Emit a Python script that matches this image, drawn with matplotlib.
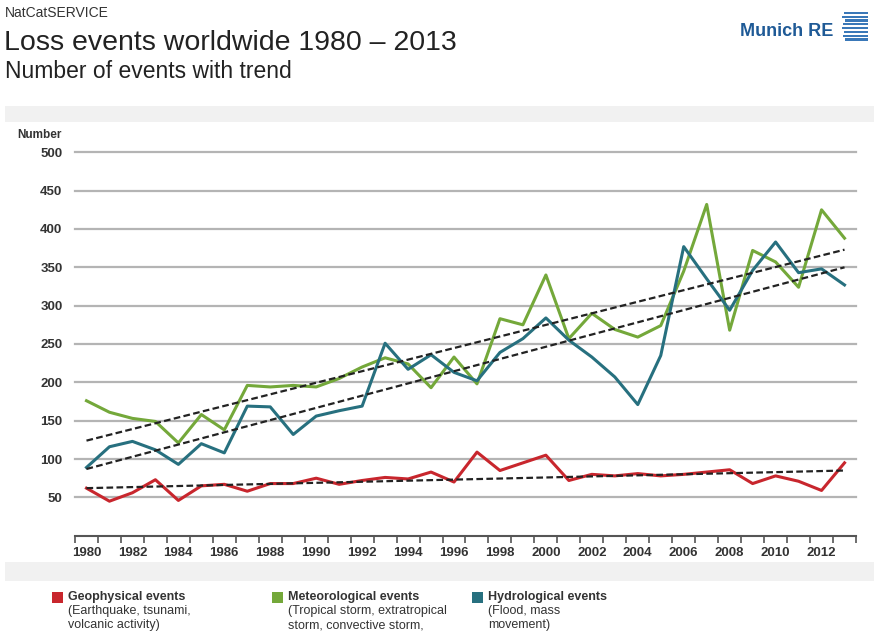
import matplotlib
matplotlib.use('Agg')
import matplotlib.pyplot as plt
import numpy as np
from matplotlib.patches import Rectangle

plt.rcParams['font.family'] = ['Liberation Sans', 'DejaVu Sans']

# --- Data ---
years = list(range(1980, 2014))
geophysical = [62, 45, 56, 73, 46, 65, 67, 58, 68, 68, 75, 67, 72, 76, 74, 83, 70,
               109, 85, 95, 105, 72, 80, 78, 81, 78, 80, 83, 86, 68, 78, 71, 59, 95]
meteorological = [176, 161, 153, 149, 121, 158, 138, 196, 194, 196, 194, 205, 220, 232, 224, 193, 233,
                  198, 283, 275, 340, 257, 290, 269, 259, 274, 345, 432, 268, 372, 357, 324, 425, 388]
hydrological = [89, 116, 123, 112, 93, 120, 108, 169, 168, 132, 156, 163, 169, 251, 217, 236, 213,
                202, 239, 257, 284, 255, 233, 207, 171, 235, 377, 335, 294, 346, 383, 343, 348, 327]

# trend lines (value at 1980 and at 2013)
trend_years = [1980, 2013]
trend_geo = [62, 85]
trend_met = [124, 373]
trend_hyd = [87, 350]

yticks = [50, 100, 150, 200, 250, 300, 350, 400, 450, 500]
xlabels = list(range(1980, 2013, 2))

c_geo = '#c8262d'
c_met = '#74a83a'
c_hyd = '#27707f'

W, H = 874, 638
fig = plt.figure(figsize=(W / 100, H / 100), dpi=100)
fig.patch.set_facecolor('white')


def fx(x):
    return x / W


def fy(y):
    return 1 - y / H


# light gray bands around the chart panel
fig.add_artist(Rectangle((fx(5), fy(122)), fx(869), 16 / H, transform=fig.transFigure,
                         facecolor='#f1f1f1', edgecolor='none'))
fig.add_artist(Rectangle((fx(5), fy(581)), fx(869), 19 / H, transform=fig.transFigure,
                         facecolor='#f1f1f1', edgecolor='none'))

# header texts
fig.text(fx(5), fy(13), 'NatCatSERVICE', fontsize=10, color='#333333', va='center')
fig.text(fx(4), fy(43), 'Loss events worldwide 1980 \u2013 2013', fontsize=20.5,
         color='#222222', va='center')
fig.text(fx(5), fy(71), 'Number of events with trend', fontsize=16.5, color='#222222', va='center')

# Munich RE logo
fig.text(fx(740), fy(32), 'Munich RE', fontsize=13, fontweight='bold', color='#1f5a96',
         va='center', ha='left')
for i, off in enumerate([2, 0, 3, 1, 0, 2, 1, 3]):
    fig.add_artist(Rectangle((fx(842 + off), fy(14 + i * 3.8)), fx(26 - off), 2.2 / H,
                             transform=fig.transFigure, facecolor='#3a78b8', edgecolor='none'))

# --- Main axes ---
ax = fig.add_axes([fx(75), fy(535.7), fx(781), (535.7 - 152.3) / H])
ax.set_xlim(1979.5, 2013.5)
ax.set_ylim(0, 500)

for v in yticks:
    ax.axhline(v, color='#b4b4b4', lw=1.6, zorder=1, clip_on=False)

ax.plot(years, meteorological, color=c_met, lw=2.2, zorder=3)
ax.plot(years, hydrological, color=c_hyd, lw=2.2, zorder=3)
ax.plot(years, geophysical, color=c_geo, lw=2.2, zorder=3)

for tr in (trend_met, trend_hyd, trend_geo):
    ax.plot(trend_years, tr, color='#222222', lw=1.6, ls=(0, (3, 1.5)), zorder=4)

for s in ['top', 'right', 'left']:
    ax.spines[s].set_visible(False)
ax.spines['bottom'].set_color('#555555')
ax.spines['bottom'].set_linewidth(1.5)

ax.set_yticks(yticks)
ax.set_yticklabels([str(v) for v in yticks], fontsize=9.5, fontweight='bold', color='#333333')
ax.tick_params(axis='y', length=0, pad=9)

ax.set_xticks(xlabels)
ax.set_xticklabels([str(v) for v in xlabels], fontsize=9.5, fontweight='bold', color='#333333')
ax.set_xticks(np.arange(1979.5, 2014, 1), minor=True)
ax.tick_params(axis='x', which='major', length=0, pad=8)
ax.tick_params(axis='x', which='minor', length=5, width=1.2, color='#555555')

fig.text(fx(62), fy(135), 'Number', fontsize=8.5, fontweight='bold', color='#333333',
         ha='right', va='center')

# --- Legend ---
legend_items = [
    ('Geophysical events', '(Earthquake, tsunami,\nvolcanic activity)', c_geo, 52),
    ('Meteorological events', '(Tropical storm, extratropical\nstorm, convective storm,', c_met, 272),
    ('Hydrological events', '(Flood, mass\nmovement)', c_hyd, 472),
]
for title, desc, col, x0 in legend_items:
    fig.add_artist(Rectangle((fx(x0), fy(603)), 11 / W, 11 / H, transform=fig.transFigure,
                             facecolor=col, edgecolor='none'))
    fig.text(fx(x0 + 16), fy(597), title, fontsize=9, fontweight='bold', color='#333333',
             va='center')
    fig.text(fx(x0 + 16), fy(605), desc, fontsize=9, color='#333333', va='top',
             linespacing=1.25)

fig.savefig('out.png', dpi=100, facecolor='white')
